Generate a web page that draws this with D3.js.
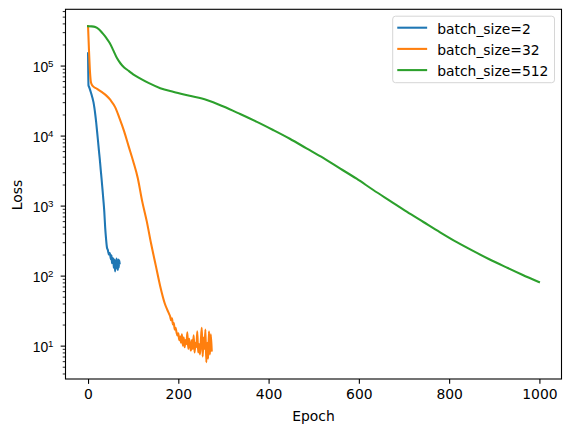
<!DOCTYPE html>
<html>
<head>
<meta charset="utf-8">
<script src="https://cdn.jsdelivr.net/npm/d3@7"></script>
<style>
    body { margin: 0; background: #fff; }
    svg { display: block; font-family: "DejaVu Sans", sans-serif; }
</style>
</head>
<body>
<script>
//loss per epoch, one pair of arrays per batch size
var epochs2 = [0, 1, 2, 4, 6, 8, 10, 12, 14, 16, 18, 20, 22, 24, 26, 28, 30, 32, 34, 36, 38, 40, 42, 44, 46, 48, 50,
    51, 52, 53, 54, 55, 56, 57, 58, 59, 60, 61, 62, 63, 64, 65, 66, 67, 68, 69, 70];
var loss2 = [150000, 52000, 50000, 46000, 42000, 38000, 34000, 30000, 25000, 20000, 15500, 11500, 8500, 6200, 4600,
    3300, 2400, 1700, 1200, 820, 480, 330, 250, 230, 200, 210, 180,
    170, 195, 150, 180, 160, 175, 130, 170, 150, 115, 165, 125, 175, 140, 165, 120, 170, 130, 165, 150];

var epochs32 = [0, 1, 2, 3, 4, 5, 6, 8, 12, 20, 30, 40, 50, 60, 70, 80, 90, 100, 110, 120, 130, 140, 150, 160, 170,
    176, 180, 182, 184, 186, 188, 190, 192, 194,
    196, 198, 200, 202, 204, 206, 208, 210, 212, 214, 216, 218, 220, 222, 224, 226, 228, 230, 232, 234,
    236, 238, 240, 242, 244, 246, 248, 250, 252, 254, 256, 258, 260, 262, 264, 266, 268, 270, 272, 274];
var loss32 = [366000, 250000, 170000, 120000, 88000, 70000, 60000, 54000, 50000, 46500, 42000, 37500, 32000, 25500,
    17500, 11500, 7000, 4300, 2500, 1150, 600, 280, 140, 70, 40,
    32, 28, 26, 23, 24.5, 20, 21, 17, 18,
    15.5, 14, 15, 12, 13.5, 11, 14.5, 10, 13, 9.5, 12, 10.5, 15.5, 9, 12.5, 10, 8.5, 12, 9, 14,
    8, 11, 9.5, 16, 8, 10.5, 7.5, 12, 18, 7, 13, 9, 17, 5.8, 11, 6.5, 16, 7.5, 14.5, 8.5];

var epochs512 = [0, 8, 16, 24, 32, 40, 48, 56, 64, 72, 80, 90, 100, 115, 135, 160, 190, 225, 263, 300, 337, 373,
    410, 447, 484, 521, 558, 595, 632, 669, 706, 743, 780, 817, 853, 890, 927, 962, 999];
var loss512 = [365000, 363000, 355000, 330000, 290000, 250000, 210000, 165000, 128000, 107000, 94000, 84000, 75000,
    65500, 56000, 47500, 42000, 37000, 32200, 26000, 20300, 15800, 12000, 9000, 6570, 4800, 3400, 2420, 1670,
    1170, 820, 583, 415, 300, 225, 170, 131, 103, 81];

var seriesLabels = ["batch_size=2", "batch_size=32", "batch_size=512"];
var xTickValues = [0, 200, 400, 600, 800, 1000];
var yTickValues = [1e1, 1e2, 1e3, 1e4, 1e5];

(function(){

    //figure and axes frame
    var width = 570,
        height = 432,
        plotLeft = 65.5,
        plotRight = 561.5,
        plotTop = 9.3,
        plotBottom = 379,
        fontSize = 13.9,
        majorTick = 4.86,
        minorTick = 2.78;

    var colors = ["#1f77b4", "#ff7f0e", "#2ca02c"];

    var series = [
        {label: seriesLabels[0], epochs: epochs2, loss: loss2},
        {label: seriesLabels[1], epochs: epochs32, loss: loss32},
        {label: seriesLabels[2], epochs: epochs512, loss: loss512}
    ];

    //matplotlib style 5% margins (log space for y)
    var allEpochs = epochs2.concat(epochs32, epochs512),
        allLoss = loss2.concat(loss32, loss512);
    var xMin = d3.min(allEpochs), xMax = d3.max(allEpochs),
        xPad = (xMax - xMin) * 0.05;
    var lMin = Math.log10(d3.min(allLoss)), lMax = Math.log10(d3.max(allLoss)),
        lPad = (lMax - lMin) * 0.05;

    var x = d3.scaleLinear()
        .domain([xMin - xPad, xMax + xPad])
        .range([plotLeft, plotRight]);

    var y = d3.scaleLog()
        .domain([Math.pow(10, lMin - lPad), Math.pow(10, lMax + lPad)])
        .range([plotBottom, plotTop]);

    var svg = d3.select("body")
        .append("svg")
        .attr("width", width)
        .attr("height", height);

    svg.append("defs").append("clipPath")
        .attr("id", "plotClip")
        .append("rect")
        .attr("x", plotLeft)
        .attr("y", plotTop)
        .attr("width", plotRight - plotLeft)
        .attr("height", plotBottom - plotTop);

    //loss curves
    var line = d3.line()
        .x(function(d){ return x(d[0]); })
        .y(function(d){ return y(d[1]); })
        .curve(d3.curveMonotoneX);

    svg.append("g")
        .attr("clip-path", "url(#plotClip)")
        .selectAll("path")
        .data(series)
        .enter()
        .append("path")
        .attr("d", function(s){
            return line(s.epochs.map(function(e, i){ return [e, s.loss[i]]; }));
        })
        .attr("fill", "none")
        .attr("stroke", function(s, i){ return colors[i]; })
        .attr("stroke-width", 2.08)
        .attr("stroke-linejoin", "round")
        .attr("stroke-linecap", "square");

    //x axis
    var xAxis = svg.append("g")
        .attr("transform", "translate(0," + plotBottom + ")")
        .call(d3.axisBottom(x)
            .tickValues(xTickValues)
            .tickSize(majorTick)
            .tickPadding(majorTick)
            .tickFormat(d3.format("d")));
    xAxis.select(".domain").remove();
    xAxis.selectAll("line").attr("stroke", "#000").attr("stroke-width", 1.1);
    xAxis.selectAll("text")
        .attr("fill", "#000")
        .attr("dy", "0.76em")
        .style("font-size", fontSize + "px")
        .style("font-family", "DejaVu Sans");

    //y axis, minor ticks first
    var minorValues = y.ticks().filter(function(v){
        return Math.abs(Math.log10(v) - Math.round(Math.log10(v))) > 1e-6;
    });
    var yMinor = svg.append("g")
        .attr("transform", "translate(" + plotLeft + ",0)")
        .call(d3.axisLeft(y).tickValues(minorValues).tickSize(minorTick).tickFormat(""));
    yMinor.select(".domain").remove();
    yMinor.selectAll("line").attr("stroke", "#000").attr("stroke-width", 0.85);

    var yAxis = svg.append("g")
        .attr("transform", "translate(" + plotLeft + ",0)")
        .call(d3.axisLeft(y).tickValues(yTickValues).tickSize(majorTick).tickFormat(""));
    yAxis.select(".domain").remove();
    yAxis.selectAll("line").attr("stroke", "#000").attr("stroke-width", 1.1);
    yAxis.selectAll("text").remove();

    //tick labels as 10 with a raised exponent
    var yLabel = yAxis.selectAll(".tick")
        .append("text")
        .attr("x", -12)
        .attr("y", 6.2)
        .attr("text-anchor", "end")
        .attr("fill", "#000")
        .style("font-size", fontSize + "px");
    yLabel.append("tspan").text("10");
    yLabel.append("tspan")
        .attr("dy", -5.2)
        .style("font-size", "9.7px")
        .text(function(d){ return Math.round(Math.log10(d)); });

    //axes frame
    svg.append("rect")
        .attr("x", plotLeft)
        .attr("y", plotTop)
        .attr("width", plotRight - plotLeft)
        .attr("height", plotBottom - plotTop)
        .attr("fill", "none")
        .attr("stroke", "#000")
        .attr("stroke-width", 1.1);

    //axis titles
    svg.append("text")
        .attr("x", (plotLeft + plotRight) / 2)
        .attr("y", 420.5)
        .attr("text-anchor", "middle")
        .style("font-size", fontSize + "px")
        .text("Epoch");

    svg.append("text")
        .attr("transform", "translate(21.6," + ((plotTop + plotBottom) / 2 + 0.8) + ") rotate(-90)")
        .attr("text-anchor", "middle")
        .style("font-size", fontSize + "px")
        .text("Loss");

    //legend, upper right
    var legend = svg.append("g");
    legend.append("rect")
        .attr("x", 392.7)
        .attr("y", 16.2)
        .attr("width", 161.8)
        .attr("height", 66.5)
        .attr("rx", 2.8)
        .attr("fill", "#fff")
        .attr("fill-opacity", 0.8)
        .attr("stroke", "#d6d6d6")
        .attr("stroke-width", 1);

    var rows = legend.selectAll(".legendRow")
        .data(series)
        .enter()
        .append("g")
        .attr("class", "legendRow")
        .attr("transform", function(d, i){ return "translate(0," + (27.7 + i * 21.2) + ")"; });

    rows.append("line")
        .attr("x1", 398.3)
        .attr("x2", 426.1)
        .attr("stroke", function(d, i){ return colors[i]; })
        .attr("stroke-width", 2.08)
        .attr("stroke-linecap", "square");

    rows.append("text")
        .attr("x", 437.2)
        .attr("y", 6.2)
        .style("font-size", fontSize + "px")
        .text(function(d){ return d.label; });
})();
</script>
</body>
</html>
